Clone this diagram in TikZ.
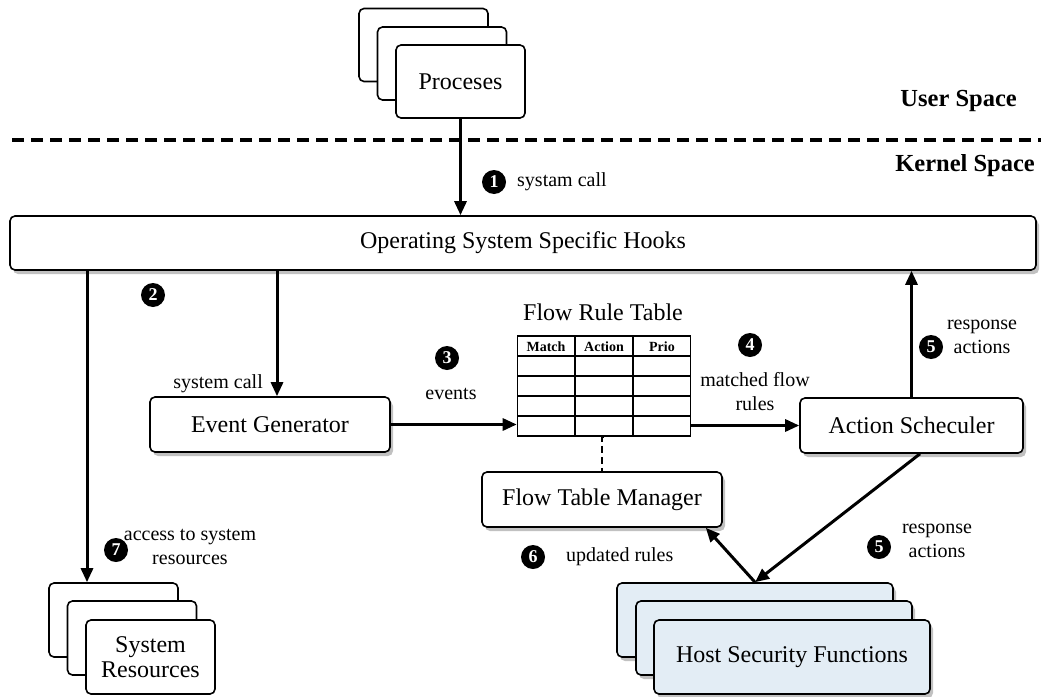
\documentclass[tikz,border=0pt]{standalone}
\usepackage{fontspec}
\setmainfont{Liberation Serif}
\usetikzlibrary{arrows.meta,shadows,calc}
\definecolor{hsfblue}{HTML}{E3EDF5}
\tikzset{
  box/.style={draw=black, line width=1.6pt, rounded corners=5pt, fill=white,
    align=center, font=\fontsize{24}{27}\selectfont},
  shbox/.style={box, drop shadow={shadow xshift=3pt, shadow yshift=-4pt, opacity=0.35, fill=black!70}},
  arr/.style={line width=3pt, -{Triangle[length=14pt,width=12pt]}},
  lbl/.style={font=\fontsize{20}{24}\selectfont, align=center, inner sep=0pt},
  badge/.style={circle, fill=black, text=white, inner sep=0pt, minimum size=24pt,
    font=\bfseries\fontsize{18}{18}\selectfont},
  hdr/.style={font=\bfseries\fontsize{14}{16}\selectfont, inner sep=0pt},
  space/.style={font=\bfseries\fontsize{24.5}{27}\selectfont, anchor=east, inner sep=0pt}
}
\begin{document}
\begin{tikzpicture}[x=1pt, y=-1pt]
\useasboundingbox (0,0) rectangle (1041,696);

% user / kernel boundary
\draw[line width=3.5pt, dash pattern=on 12pt off 7pt] (12,140) -- (1041,140);
\node[space] (us) at (1017,101) {User Space};
\node[space] (ks) at (1035,166) {Kernel Space};

% stack of processes
\node[box, minimum width=129pt, minimum height=73pt] (pr3) at (423.5,45) {};
\node[box, minimum width=129pt, minimum height=73pt] (pr2) at (442,63.5) {};
\node[box, minimum width=129pt, minimum height=73pt] (pr1) at (460.5,81.5) {Proceses};

% hooks
\node[shbox, minimum width=1026pt, minimum height=54pt] (os) at (523,243) {Operating System Specific Hooks};

% components
\node[shbox, minimum width=240pt, minimum height=55pt] (eg) at (270,424.5) {Event Generator};
\node[shbox, minimum width=223pt, minimum height=55pt] (as) at (911.5,425.5) {Action Scheculer};
\node[shbox, minimum width=240pt, minimum height=55pt] (ftm) at (602,499.5) {Flow Table Manager};

% flow rule table
\node[font=\fontsize{24}{27}\selectfont, inner sep=0pt] (frt) at (603,312) {Flow Rule Table};
\node[draw, line width=1.6pt, minimum width=173pt, minimum height=100pt, inner sep=0pt] (tbl) at (604,386) {};
\foreach \yy in {356,376,396,416} \draw[line width=1.4pt] (517.5,\yy) -- (690.5,\yy);
\foreach \xx in {575,633} \draw[line width=1.4pt] (\xx,336) -- (\xx,436);
\node[hdr] (h1) at (546,347) {Match};
\node[hdr] (h2) at (604,347) {Action};
\node[hdr] (h3) at (662,347) {Prio};

% system resources stack
\node[box, minimum width=129pt, minimum height=74pt] (sr3) at (113.5,620) {};
\node[box, minimum width=129pt, minimum height=74pt] (sr2) at (132,638) {};
\node[box, minimum width=129pt, minimum height=74pt] (sr1) at (150.5,657) {System\\[-2pt]Resources};

% host security functions stack
\node[shbox, fill=hsfblue, minimum width=276pt, minimum height=74pt] (hs3) at (755,620) {};
\node[shbox, fill=hsfblue, minimum width=276pt, minimum height=74pt] (hs2) at (774,638) {};
\node[shbox, fill=hsfblue, minimum width=276pt, minimum height=74pt] (hs1) at (792,657) {Host Security Functions};

% helper columns
\coordinate (c2) at (87,0);
\coordinate (ce) at (277,0);
\coordinate (ca) at (920,0);
\coordinate (cf) at ($(ftm.south east)+(-17,0)$);

% connectors
\draw[arr] (pr1.south) -- (os.north -| pr1.south);
\draw[arr] (os.south -| c2) -- (sr3.north -| c2);
\draw[arr] (os.south -| ce) -- (eg.north -| ce);
\draw[arr] (eg.east) -- (tbl.west |- eg.east);
\draw[arr] (tbl.east |- as.west) -- (as.west);
\draw[arr] (as.north) -- (os.south -| as.north);
\draw[line width=1.8pt, dash pattern=on 7pt off 4pt] (tbl.south) -- (ftm.north |- tbl.south) -- (ftm.north);
\draw[arr] (as.south -| ca) -- (hs3.north);
\draw[arr] (hs3.north) -- (cf);

% step labels
\node[badge] (b1) at (494,182) {1};
\node[lbl, anchor=west] (l1) at (517,182) {systam call};
\node[badge] (b2) at (153,295) {2};
\node[lbl, anchor=east] (l2) at (263,384) {system call};
\node[badge] (b3) at (447,358) {3};
\node[lbl] (l3) at (451,394) {events};
\node[badge] (b4) at (750,345) {4};
\node[lbl] (l4) at (755,392) {matched flow\\rules};
\node[badge] (b5a) at (931,347) {5};
\node[lbl] (l5a) at (982,337) {response\\actions};
\node[badge] (b5b) at (879,547) {5};
\node[lbl] (l5b) at (937,541) {response\\actions};
\node[badge] (b6) at (533,557) {6};
\node[lbl, anchor=west] (l6) at (566,557) {updated rules};
\node[badge] (b7) at (116,550) {7};
\node[lbl] (l7) at (190,547) {access to system\\resources};
\end{tikzpicture}
\end{document}
